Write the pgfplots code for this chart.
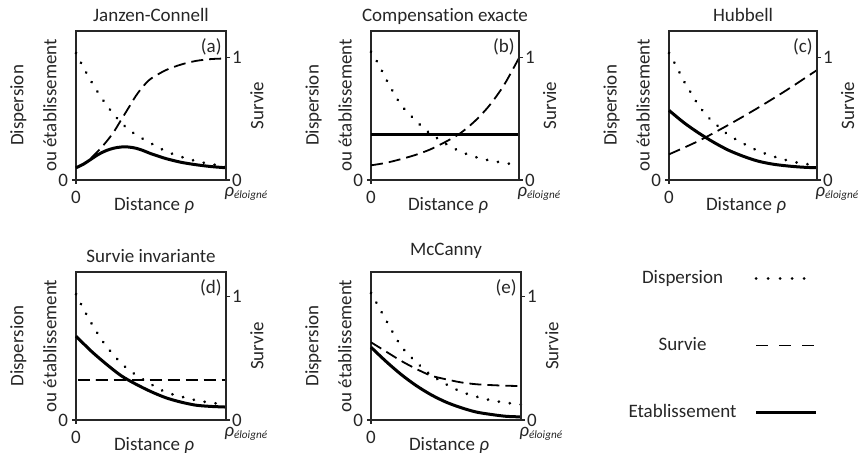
\documentclass[border=0pt]{standalone}
\usepackage{fontspec}
\setmainfont{Carlito}[Ligatures=NoCommon]
\usepackage{pgfplots}
\pgfplotsset{compat=1.18}

\pgfplotsset{
  disp/.style={line width=1.5pt, line cap=round, dash pattern=on 0.01pt off 5.5pt},
  surv/.style={line width=0.9pt, dash pattern=on 6pt off 3pt},
  etab/.style={line width=1.5pt},
  base/.style={scale only axis, width=75pt, height=74.5pt,
    xmin=0, xmax=1, ymin=0, ymax=1.22, clip=false,
    major tick length=2pt, tick align=outside,
    tick style={black!85, line width=0.6pt},
    axis line style={line width=0.75pt, black!85},
    tick label style={text=black!85}},
  panel/.style={base, tick pos=left,
    xtick={0}, xticklabels={0}, ytick={0}, yticklabels={0},
    yticklabel style={xshift=1.5pt},
    ylabel={Dispersion\\[5pt]ou établissement},
    ylabel style={align=center, at={(axis description cs:-0.127,0.5)}, anchor=south, inner sep=0pt},
    xlabel={Distance {\itshape ρ}},
    xlabel style={at={(axis description cs:0.52,0)}, anchor=base, yshift=-15.5pt, inner sep=0pt},
    every axis title/.style={at={(axis description cs:0.5,1)}, anchor=base, yshift=4.75pt, inner sep=0pt},
    every axis plot/.append style={smooth, black}},
  rside/.style={base, hide x axis, axis y line*=right,
    ytick={0,1}, yticklabels={0,1}, yticklabel style={xshift=-2.5pt},
    ylabel={Survie},
    ylabel style={at={(axis description cs:1.16,0.5)}, anchor=north, inner sep=0pt}},
}
\newcommand{\farlab}{{\itshape ρ}\raisebox{-1pt}{\fontsize{5.6}{6}\selectfont\itshape éloigné}}

\begin{document}
\begin{tikzpicture}[font=\fontsize{9.5}{11.5}\selectfont, every node/.append style={text=black!85}]
\path[use as bounding box] (0,0) rectangle (430pt,226.5pt);

% (a) Janzen-Connell
\begin{axis}[panel, at={(38pt,136.5pt)}, anchor=south west, title={Janzen-Connell}]
\addplot[disp] coordinates {(0,1.04)(0.05,0.92)(0.1,0.81)(0.15,0.71)(0.2,0.62)(0.25,0.54)(0.3,0.47)(0.35,0.415)(0.4,0.37)(0.5,0.30)(0.6,0.235)(0.7,0.19)(0.8,0.155)(0.9,0.13)(1,0.11)};
\addplot[surv] coordinates {(0,0.10)(0.05,0.13)(0.1,0.18)(0.15,0.24)(0.2,0.31)(0.25,0.39)(0.3,0.49)(0.35,0.59)(0.4,0.69)(0.45,0.77)(0.5,0.83)(0.6,0.90)(0.7,0.945)(0.8,0.975)(0.9,0.99)(1,0.995)};
\addplot[etab] coordinates {(0,0.10)(0.05,0.13)(0.1,0.17)(0.15,0.21)(0.2,0.24)(0.25,0.26)(0.3,0.27)(0.35,0.27)(0.4,0.26)(0.45,0.24)(0.5,0.215)(0.55,0.195)(0.6,0.175)(0.7,0.145)(0.8,0.125)(0.9,0.11)(1,0.10)};
\node[anchor=north east, inner sep=0pt, xshift=-2pt, yshift=-3.5pt] at (rel axis cs:1,1) {(a)};
\node[anchor=base west, inner sep=0pt, xshift=-1pt, yshift=-8.5pt] at (rel axis cs:1,0) {\farlab};
\end{axis}
\begin{axis}[rside, at={(38pt,136.5pt)}, anchor=south west]
\end{axis}

% (b) Compensation exacte
\begin{axis}[panel, width=74pt, at={(185.5pt,136.5pt)}, anchor=south west, title={Compensation exacte}]
\addplot[disp] coordinates {(0,1.05)(0.05,0.95)(0.1,0.83)(0.15,0.72)(0.2,0.62)(0.25,0.55)(0.3,0.49)(0.35,0.43)(0.4,0.38)(0.45,0.34)(0.5,0.30)(0.6,0.235)(0.7,0.19)(0.8,0.16)(0.9,0.14)(1,0.12)};
\addplot[surv] coordinates {(0,0.12)(0.1,0.14)(0.2,0.17)(0.3,0.205)(0.4,0.25)(0.5,0.31)(0.6,0.38)(0.7,0.48)(0.8,0.61)(0.9,0.78)(1,1.0)};
\addplot[etab] coordinates {(0,0.375)(1,0.375)};
\node[anchor=north east, inner sep=0pt, xshift=-2pt, yshift=-3.5pt] at (rel axis cs:1,1) {(b)};
\node[anchor=base west, inner sep=0pt, xshift=-1pt, yshift=-8.5pt] at (rel axis cs:1,0) {\farlab};
\end{axis}
\begin{axis}[rside, width=74pt, at={(185.5pt,136.5pt)}, anchor=south west]
\end{axis}

% (c) Hubbell
\begin{axis}[panel, width=74pt, at={(334.5pt,136.5pt)}, anchor=south west, title={Hubbell}]
\addplot[disp] coordinates {(0,1.04)(0.05,0.93)(0.1,0.81)(0.15,0.71)(0.2,0.61)(0.25,0.535)(0.3,0.47)(0.35,0.425)(0.4,0.37)(0.5,0.30)(0.6,0.24)(0.7,0.195)(0.8,0.16)(0.9,0.135)(1,0.12)};
\addplot[surv] coordinates {(0,0.21)(0.2,0.32)(0.4,0.45)(0.6,0.59)(0.8,0.74)(1,0.90)};
\addplot[etab] coordinates {(0,0.57)(0.1,0.47)(0.2,0.385)(0.3,0.31)(0.4,0.245)(0.5,0.195)(0.6,0.155)(0.7,0.13)(0.8,0.115)(0.9,0.105)(1,0.10)};
\node[anchor=north east, inner sep=0pt, xshift=-2pt, yshift=-3.5pt] at (rel axis cs:1,1) {(c)};
\node[anchor=base west, inner sep=0pt, xshift=-1pt, yshift=-8.5pt] at (rel axis cs:1,0) {\farlab};
\end{axis}
\begin{axis}[rside, width=74pt, at={(334.5pt,136.5pt)}, anchor=south west]
\end{axis}

% (d) Survie invariante
\begin{axis}[panel, height=74pt, ymax=1.2, at={(38pt,16.5pt)}, anchor=south west, title={Survie invariante}]
\addplot[disp] coordinates {(0,1.02)(0.05,0.90)(0.1,0.79)(0.15,0.69)(0.2,0.60)(0.25,0.53)(0.3,0.46)(0.35,0.41)(0.4,0.365)(0.5,0.29)(0.6,0.225)(0.7,0.19)(0.8,0.16)(0.9,0.14)(1,0.125)};
\addplot[surv] coordinates {(0.01,0.325)(1,0.325)};
\addplot[etab] coordinates {(0,0.68)(0.1,0.56)(0.2,0.455)(0.3,0.36)(0.4,0.29)(0.5,0.23)(0.6,0.18)(0.7,0.145)(0.8,0.12)(0.9,0.11)(1,0.105)};
\node[anchor=north east, inner sep=0pt, xshift=-2pt, yshift=-3.5pt] at (rel axis cs:1,1) {(d)};
\node[anchor=base west, inner sep=0pt, xshift=-1pt, yshift=-8.5pt] at (rel axis cs:1,0) {\farlab};
\end{axis}
\begin{axis}[rside, height=74pt, ymax=1.2, at={(38pt,16.5pt)}, anchor=south west]
\end{axis}

% (e) McCanny
\begin{axis}[panel, height=74pt, ymax=1.2, at={(185.5pt,16.5pt)}, anchor=south west, title={McCanny},
  title style={yshift=3.5pt}]
\addplot[disp] coordinates {(0,1.03)(0.05,0.92)(0.1,0.81)(0.15,0.70)(0.2,0.60)(0.25,0.53)(0.3,0.47)(0.35,0.415)(0.4,0.365)(0.5,0.29)(0.6,0.23)(0.7,0.19)(0.8,0.16)(0.9,0.14)(1,0.125)};
\addplot[surv] coordinates {(0,0.63)(0.1,0.555)(0.2,0.48)(0.3,0.415)(0.4,0.36)(0.5,0.33)(0.6,0.305)(0.7,0.29)(0.8,0.283)(0.9,0.278)(1,0.275)};
\addplot[etab] coordinates {(0,0.59)(0.1,0.475)(0.2,0.37)(0.3,0.28)(0.4,0.205)(0.5,0.145)(0.6,0.10)(0.7,0.065)(0.8,0.045)(0.9,0.03)(1,0.025)};
\node[anchor=north east, inner sep=0pt, xshift=-2pt, yshift=-3.5pt] at (rel axis cs:1,1) {(e)};
\node[anchor=base west, inner sep=0pt, xshift=-1pt, yshift=-8.5pt] at (rel axis cs:1,0) {\farlab};
\end{axis}
\begin{axis}[rside, height=74pt, ymax=1.2, at={(185.5pt,16.5pt)}, anchor=south west,
  legend plot pos=right,
  legend image code/.code={\draw[#1] (0pt,0pt) -- (30pt,0pt);},
  legend style={at={(axis description cs:2.98,1.02)}, anchor=north east, draw=none, fill=none,
    inner sep=0pt, row sep=24.5pt, legend cell align=center,
    nodes={inner sep=0pt, text height=7pt, text depth=2pt},
    /tikz/every odd column/.append style={column sep=9pt}}]
\addlegendimage{black, line width=1.5pt, line cap=round, dash pattern=on 0.01pt off 6pt}
\addlegendentry{Dispersion}
\addlegendimage{black, line width=0.9pt, dash pattern=on 6pt off 5.5pt}
\addlegendentry{Survie}
\addlegendimage{black, line width=1.5pt}
\addlegendentry{Etablissement}
\end{axis}
\end{tikzpicture}
\end{document}
